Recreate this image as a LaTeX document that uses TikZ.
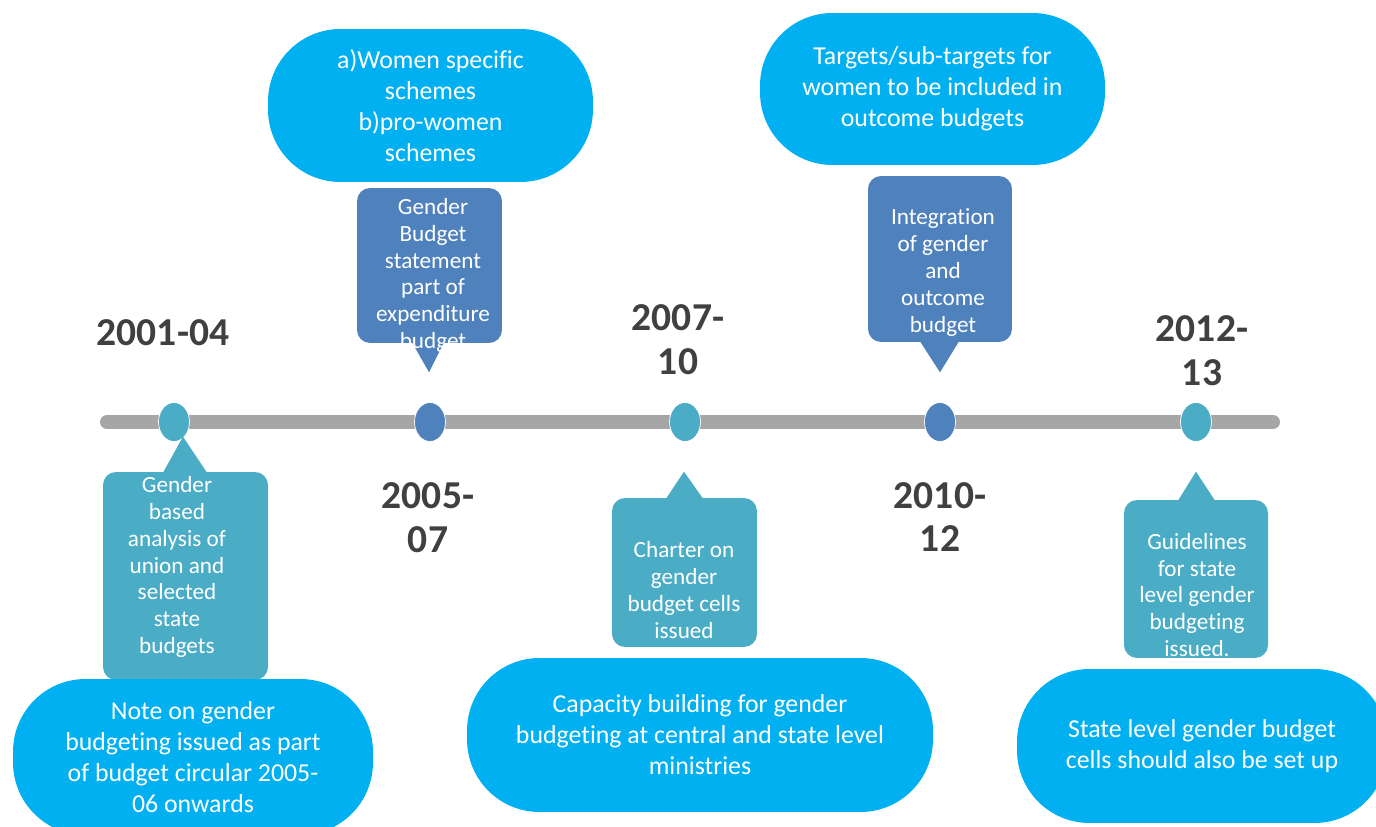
\documentclass[tikz,border=0pt]{standalone}
\usepackage{fontspec}
\setmainfont{Carlito}[Ligatures=NoCommon]
\definecolor{bar}{RGB}{166,166,166}
\definecolor{sky}{RGB}{0,176,240}
\definecolor{tealc}{RGB}{75,172,198}
\definecolor{bluec}{RGB}{79,129,189}
\definecolor{yearc}{RGB}{64,64,64}
\usetikzlibrary{calc,shapes.geometric}

\begin{document}
\begin{tikzpicture}[x=0.02cm, y=-0.02cm,
    pill/.style={fill=sky, rounded corners=1.45cm, inner sep=0pt, text=white, align=center,
      font=\fontsize{14.7}{17.6}\selectfont},
    tab/.style={rounded corners=0.26cm, inner sep=0pt, minimum width=2.9cm},
    note/.style={text=white, align=center, inner sep=0pt, font=\fontsize{13.2}{15.3}\selectfont},
    year/.style={text=yearc, align=center, font=\fontsize{22.5}{25}\selectfont\bfseries},
    dot/.style={ellipse, draw=white, thin, minimum width=0.62cm, minimum height=0.78cm, inner sep=0pt}]
  \useasboundingbox (0,0) rectangle (1376,827);

  % time axis
  \coordinate (barL) at (107,422);
  \coordinate (barR) at (1273,422);
  \draw[bar, line width=0.28cm, line cap=round] (barL) -- (barR);
  \foreach \x/\col [count=\i] in {174/tealc, 430/bluec, 685/tealc, 940/bluec, 1196/tealc}{
    \node[dot, fill=\col] (d\i) at (\x,422) {};
  }

  % years
  \node[year] (y1) at (163,333) {2001-04};
  \node[year] (y2) at (428,518) {2005-\\07};
  \node[year] (y3) at (678,340) {2007-\\10};
  \node[year] (y4) at (940,517) {2010-\\12};
  \node[year] (y5) at (1202,351) {2012-\\13};

  % callouts below the axis
  \node[tab, fill=tealc, minimum width=3.3cm, minimum height=4.16cm] (b1) at (185.5,576) {};
  \fill[tealc] ($(b1.north)+(-22.5,1)$) -- ($(b1.north)+(-2.5,-35)$) -- ($(b1.north)+(21.5,1)$) -- cycle;
  \node[note] (n1) at (177,567) {Gender\\based\\analysis of\\union and\\selected\\state\\budgets};

  \node[tab, fill=tealc, minimum height=2.98cm] (b3) at (684.5,572.5) {};
  \fill[tealc] ($(b3.north)+(-18.5,1)$) -- ($(b3.north)+(-0.5,-26)$) -- ($(b3.north)+(18.5,1)$) -- cycle;
  \node[note] (n3) at (684,590) {Charter on\\gender\\budget cells\\issued};

  \node[tab, fill=tealc, minimum width=2.88cm, minimum height=3.16cm] (b5) at (1196,579) {};
  \fill[tealc] ($(b5.north)+(-18,1)$) -- ($(b5.north)+(0,-28)$) -- ($(b5.north)+(19,1)$) -- cycle;
  \node[note] (n5) at (1197,595) {Guidelines\\for state\\level gender\\budgeting\\issued.};

  % callouts above the axis
  \node[tab, fill=bluec, minimum height=3.1cm] (b2) at (429.5,265.5) {};
  \fill[bluec] ($(b2.south)+(-17.5,-1)$) -- ($(b2.south)+(-0.5,29)$) -- ($(b2.south)+(14.5,-1)$) -- cycle;
  \node[note] (n2) at (433,275.5) {Gender\\Budget\\statement\\part of\\expenditure\\budget};

  \node[tab, fill=bluec, minimum width=2.88cm, minimum height=3.32cm] (b4) at (940,259) {};
  \fill[bluec] ($(b4.south)+(-20,-1)$) -- ($(b4.south)+(0,30)$) -- ($(b4.south)+(19,-1)$) -- cycle;
  \node[note] (n4) at (943,272.5) {Integration\\of gender\\and\\outcome\\budget};

  % outer bubbles
  \node[pill, minimum width=6.5cm, minimum height=3.06cm] (p2) at (430.5,105.5)
    {a)Women specific\\schemes\\b)pro-women\\schemes};
  \node[pill, minimum width=6.9cm, minimum height=3.04cm] (p4) at (932.5,89)
    {Targets/sub-targets for\\women to be included in\\outcome budgets};
  \node[pill, minimum width=7.2cm, minimum height=3.12cm] (p1) at (193,757)
    {Note on gender\\budgeting issued as part\\of budget circular 2005-\\06 onwards};
  \node[pill, minimum width=9.32cm, minimum height=3.08cm] (p3) at (700,735)
    {Capacity building for gender\\budgeting at central and state level\\ministries};
  \node[pill, minimum width=7.4cm, minimum height=3.08cm] (p5) at (1202,746)
    {State level gender budget\\cells should also be set up};
\end{tikzpicture}
\end{document}
